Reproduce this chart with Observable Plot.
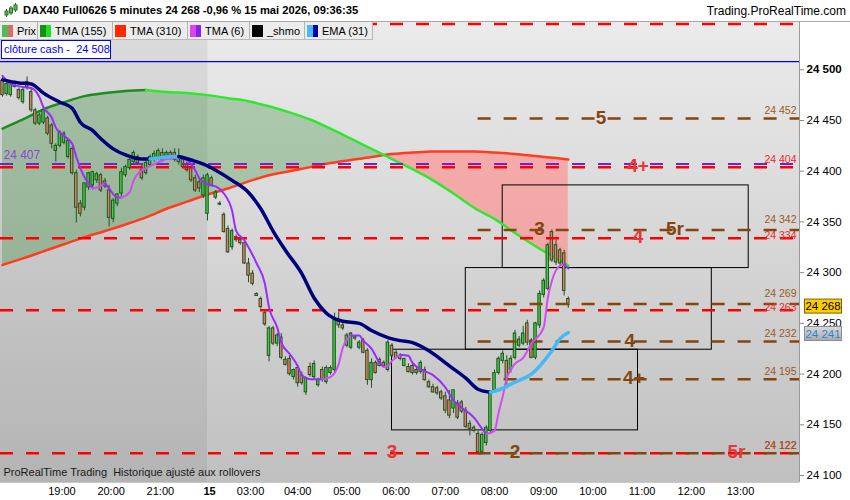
<!DOCTYPE html>
<html><head><meta charset="utf-8">
<script src="https://cdn.jsdelivr.net/npm/d3@7"></script>
<script src="https://cdn.jsdelivr.net/npm/@observablehq/plot@0.6"></script>
<style>
html,body{margin:0;padding:0;background:#fff;}
body{width:850px;height:500px;position:relative;overflow:hidden;font-family:"Liberation Sans",Arial,sans-serif;}
#title{position:absolute;left:0;top:0;width:850px;height:21px;border-bottom:1px solid #a9a9a9;background:#fff;}
#title .t{position:absolute;left:23px;top:4px;font-weight:bold;font-size:11.2px;color:#000;white-space:nowrap;}
#title .r{position:absolute;right:4px;top:4px;font-size:12px;color:#000;}
#title svg{position:absolute;left:4px;top:3px;}
#chart{position:absolute;left:0;top:22px;}
#legend{position:absolute;left:0;top:22px;height:17px;display:flex;background:#ececec;border-bottom:1px solid #b9b9b9;}
#legend .it{box-sizing:border-box;height:17px;border-right:1px solid #b4b4b4;display:flex;align-items:center;font-size:11px;color:#000;padding-left:2px;white-space:nowrap;}
#legend .sw{display:inline-flex;width:11px;height:12px;margin-right:4px;}
#legend .sw b{flex:1;height:12px;display:block;}
#cash{position:absolute;left:1px;top:40px;width:110px;height:19px;box-sizing:border-box;border:1px solid #0000ff;background:#fff;color:#0000ff;font-size:11px;line-height:17px;padding-left:2px;white-space:nowrap;}
</style></head>
<body>
<div id="title">
  <svg width="14" height="15" viewBox="0 0 14 15"><g stroke="#2d6b2d" fill="#55c455"><line x1="2.5" y1="6" x2="2.5" y2="14"/><rect x="1" y="8" width="3" height="4"/><line x1="7" y1="3" x2="7" y2="12"/><rect x="5.5" y="5" width="3" height="5"/><line x1="11.5" y1="0" x2="11.5" y2="9"/><rect x="10" y="2" width="3" height="5"/></g></svg>
  <span class="t">DAX40 Full0626 5 minutes 24 268 -0,96 % 15 mai 2026, 09:36:35</span>
  <span class="r">Trading.ProRealTime.com</span>
</div>
<div id="chart"></div>
<div id="legend"></div>
<div id="cash">clôture cash -&nbsp; 24 508</div>
<script>
// ---------- data ----------
const open = [
24489,24476,24475,24487,24480,24468,24483,24478,24460,24447,
24448,24452,24445,24420,24425,24428,24414,24422,24398,24368,
24364,24384,24386,24391,24396,24390,24381,24353,24368,24378,
24396,24403,24409,24414,24401,24398,24406,24411,24413,24418,
24414,24418,24418,24409,24411,24406,24404,24393,24389,24376,
24358,24393,24374,24367,24357,24343,24325,24332,24332,24329,
24309,24299,24279,24274,24260,24218,24245,24230,24236,24214,
24215,24197,24206,24199,24182,24207,24197,24189,24204,24192,
24201,24204,24253,24248,24228,24226,24235,24226,24233,24223,
24194,24211,24214,24211,24204,24228,24221,24218,24208,24207,
24208,24204,24202,24204,24192,24187,24186,24182,24178,24174,
24166,24171,24172,24164,24151,24147,24141,24123,24132,24144,
24184,24201,24213,24213,24204,24216,24228,24230,24250,24233,
24216,24248,24278,24284,24340,24327,24322,24319,24274];
const high = [
24494,24490,24488,24489,24482,24482,24493,24481,24462,24457,
24462,24454,24447,24427,24440,24439,24432,24424,24401,24371,
24388,24399,24400,24399,24398,24393,24386,24373,24378,24403,
24406,24413,24420,24416,24406,24411,24416,24420,24422,24422,
24420,24420,24422,24422,24413,24409,24406,24396,24393,24396,
24398,24395,24381,24370,24359,24346,24343,24337,24334,24331,
24314,24302,24280,24276,24262,24247,24247,24240,24240,24217,
24218,24205,24209,24202,24197,24211,24213,24196,24207,24208,
24208,24260,24261,24251,24240,24241,24238,24233,24235,24225,
24215,24213,24216,24213,24233,24230,24223,24220,24215,24210,
24211,24206,24213,24207,24194,24190,24188,24184,24182,24184,
24184,24174,24174,24167,24154,24149,24144,24142,24149,24182,
24204,24217,24223,24218,24218,24243,24237,24247,24253,24235,
24251,24282,24294,24329,24342,24332,24324,24322,24276];
const low = [
24473,24474,24473,24482,24470,24466,24480,24458,24445,24445,
24446,24435,24422,24409,24423,24426,24412,24396,24349,24355,
24361,24381,24383,24388,24379,24383,24345,24349,24365,24375,
24394,24401,24407,24406,24391,24396,24404,24409,24411,24409,
24411,24411,24409,24406,24403,24399,24389,24379,24379,24373,
24351,24385,24372,24366,24339,24319,24322,24330,24327,24308,
24290,24287,24277,24264,24247,24212,24228,24227,24214,24208,
24198,24194,24187,24189,24179,24197,24194,24187,24192,24190,
24199,24201,24245,24243,24226,24224,24233,24224,24220,24189,
24186,24200,24207,24207,24202,24216,24215,24213,24207,24201,
24199,24199,24200,24193,24186,24181,24179,24174,24161,24156,
24161,24155,24161,24146,24139,24142,24122,24120,24129,24141,
24181,24199,24210,24189,24201,24214,24226,24228,24228,24215,
24214,24245,24275,24282,24310,24307,24307,24277,24265];
const close = [
24475,24486,24486,24483,24472,24480,24488,24460,24447,24455,
24460,24437,24427,24425,24438,24437,24430,24398,24364,24358,
24388,24398,24399,24397,24381,24385,24354,24371,24377,24399,
24404,24411,24418,24408,24393,24408,24414,24417,24420,24411,
24418,24413,24411,24415,24404,24401,24391,24381,24383,24393,
24396,24386,24379,24368,24340,24320,24341,24335,24329,24309,
24297,24289,24277,24266,24249,24245,24230,24238,24216,24209,
24200,24204,24191,24191,24196,24199,24210,24194,24194,24206,
24206,24253,24248,24245,24238,24240,24237,24231,24221,24194,
24211,24201,24208,24208,24231,24218,24216,24215,24215,24202,
24201,24201,24211,24194,24187,24182,24181,24176,24164,24159,
24184,24157,24163,24148,24146,24144,24123,24140,24147,24181,
24201,24215,24220,24194,24215,24240,24234,24240,24231,24216,
24250,24279,24292,24327,24312,24310,24309,24282,24268];

// moving averages (bar index, value)
const tmaIdx = [0,5,10,15,20,25,30,35,40,45,50,55,60,65,70,75,80,85,90,93,95,100,105,110,115,120,125,130,135,138];
const tma155 = [24442,24451,24461,24468,24474,24477,24479,24480,24478,24477,24475,24472,24469,24464,24458,24451,24442,24432,24422,24416,24412,24402,24391,24378,24364,24353,24339,24326,24314,24307];
const tma310 = [24307.5,24314,24321,24328,24335,24341,24347.5,24354.5,24363,24370,24377,24383,24390,24396,24400,24404,24408,24411,24414,24416,24417,24418.5,24419.5,24419.5,24419.5,24418.5,24417,24415,24413,24411.5];
const emaIdx = [0,4,7,10,14,17,19,22,24,27,30,34,36,38,40,43,46,49,52,56,60,63,66,69,73,76,79,83,87,90,94,97,100,104,109,113,116,119,122,125,129,134,136,138];
const ema31 = [24490,24487,24486,24477,24468,24462,24448,24440,24432,24422,24416,24412,24412,24413,24414,24414.5,24411,24407,24401,24391,24379,24363,24341,24322,24299,24275,24260,24252,24250,24243,24236,24233,24231,24223,24208,24196,24185,24182,24186,24192,24200,24223,24235,24241];
const t6Idx = [0,2,5,7,9,10,12,13,15,17,18,20,22,23,25,26,28,29,31,32,34,35,38,40,43,45,47,48,50,52,54,56,57,59,60,62,64,65,67,68,70,72,73,75,77,78,80,82,83,85,87,88,90,92,93,94,95,97,99,100,103,105,108,110,112,115,117,118,120,121,122,123,125,127,129,132,133,134,136,137,138];
const tma6 = [24494,24486,24483,24482,24473,24463,24453,24443,24435,24427,24414,24394,24383,24384,24388,24383,24374,24374,24379,24391,24401,24403,24409,24412,24413,24411,24401,24393,24387,24385,24378,24361,24341,24332,24325,24309,24289,24266,24246,24231,24220,24208,24199,24195,24195,24195,24197,24210,24226,24238,24238,24233,24225,24211,24207,24208,24213,24219,24218,24211,24203,24199,24187,24174,24167,24157,24146,24141,24144,24162,24178,24196,24210,24216,24230,24246,24275,24292,24307,24308,24304];

// horizontal levels
const cashClose = 24508;
const redLevels = [24545, 24404, 24334, 24263, 24122];
const purpleLevels = [24407];
const brownLevels = [24452, 24342, 24269, 24232, 24195, 24122];
const brownStart = 116;

// zones (black boxes)
const boxStart = [95, 113, 122];
const boxEnd = [155, 173, 182];
const boxLow = [24144.5, 24224, 24304.5];
const boxHigh = [24224, 24304.5, 24386];

// wave labels
const waveText = ["5","4+","3","5r","4","4","4+","3","2","5r"];
const waveIdx = [146,155,131,164,155,153,154,95,125,179];
const waveVal = [24452,24404,24342,24342,24334,24232,24195,24122,24122,24122];
const waveKind = ["b","r","b","b","r","b","b","r","b","r"];

// value labels at right edge
const levelLabelVal = [24452,24404,24342,24334,24269,24263,24232,24195,24122,24122];
const levelLabelKind = ["b","r","b","r","b","r","b","b","r","b"];

// axes
const xTickPos = [14.5,26.5,38.5,50.5,60.5,72,84,96,108,120,132,144,156,168,180];
const xTickLab = ["19:00","20:00","21:00","15","03:00","04:00","05:00","06:00","07:00","08:00","09:00","10:00","11:00","12:00","13:00"];
const yTicks = [24100,24150,24200,24250,24300,24350,24400,24450,24500];

// legend
const legendNames = ["Prix","TMA (155)","TMA (310)","TMA (6)","_shmo","EMA (31)"];
const legendA = ["#55bb55","#149014","#ff2a00","#dd44ee","#000000","#44bbff"];
const legendB = ["#e06a6a","#22dd22","#ff2a00","#8a22ee","#000000","#0000aa"];
const legendW = [38,75,75,62,55,68];

// ---------- layout constants ----------
const xMin = -0.488, xMax = 194.39, dayBoundary = 50.2;
const yMin = 24093.1, yMax = 24546.6;
const RED = "#ff0000", BROWN = "#84450f", RED_T = "#f02828", BROWN_T = "#9a5a1e";
const fmt = v => d3.format(",")(Math.round(v)).replace(/,/g, " ");

// ---------- legend ----------
const lg = document.getElementById("legend");
legendNames.forEach((n, k) => {
  const it = document.createElement("div");
  it.className = "it"; it.style.width = legendW[k] + "px";
  it.innerHTML = `<span class="sw"><b style="background:${legendA[k]}"></b><b style="background:${legendB[k]}"></b></span>${n}`;
  lg.appendChild(it);
});

// ---------- derived rows ----------
const candles = open.map((o, i) => ({i, o, h: high[i], l: low[i], c: close[i]}));
const tmaRows = tmaIdx.map((i, k) => ({i, a: tma155[k], b: tma310[k]}));
const crossIdx = 93;

function segments(idx, val, up, down) {
  const rows = []; let seg = 0, prev = null;
  for (let k = 1; k < idx.length; k++) {
    const col = val[k] > val[k - 1] ? up : down;
    if (col !== prev) { seg++; rows.push({i: idx[k - 1], v: val[k - 1], seg, col}); prev = col; }
    rows.push({i: idx[k], v: val[k], seg, col});
  }
  return rows;
}
const g155 = segments(tmaIdx, tma155, "#1f8c1f", "#2ee82e");
const r310 = tmaIdx.map((i, k) => ({i, v: tma310[k]}));
const emaRows = segments(emaIdx, ema31, "#45b8f5", "#00007e");
const t6Rows = segments(t6Idx, tma6, "#d24cf2", "#9a2cff");

// close pairs of right-edge labels are nudged apart so they stay readable
const upperLabel = new Set([24342, 24269]);
const lowerLabel = new Set([24334, 24263]);
const levelLabels = levelLabelVal.map((v, k) => ({v, t: fmt(v), col: levelLabelKind[k] === "r" ? RED_T : BROWN_T}));
const waves = waveText.map((t, k) => ({t, i: waveIdx[k], v: waveVal[k], col: waveKind[k] === "r" ? "#e83535" : BROWN}));
const boxes = boxStart.map((s, k) => ({x1: s, x2: boxEnd[k], y1: boxLow[k], y2: boxHigh[k]}));
const labelOpts = {y: "v", text: "t", fill: "col", frameAnchor: "right", textAnchor: "end", dx: -3, fontSize: 10.5};

const plot = Plot.plot({
  width: 850, height: 478,
  marginLeft: 0, marginRight: 51, marginTop: 0, marginBottom: 18,
  x: {domain: [xMin, xMax]},
  y: {domain: [yMin, yMax]},
  color: {type: "identity"},
  style: {fontFamily: "'Liberation Sans', Arial, sans-serif", background: "transparent", color: "#000"},
  marks: [
    Plot.rect([{a: xMin, b: dayBoundary}], {x1: "a", x2: "b", y1: () => yMin, y2: () => yMax, fill: "url(#gPrev)"}),
    Plot.rect([{a: dayBoundary, b: xMax}], {x1: "a", x2: "b", y1: () => yMin, y2: () => yMax, fill: "url(#gCur)"}),
    Plot.areaY(tmaRows.filter(d => d.i <= crossIdx), {x: "i", y1: "b", y2: "a", fill: "#1a801a", fillOpacity: 0.27, curve: "monotone-x"}),
    Plot.areaY(tmaRows.filter(d => d.i >= crossIdx), {x: "i", y1: "b", y2: "a", fill: "#ff9393", fillOpacity: 0.69, curve: "monotone-x"}),
    Plot.ruleY([cashClose], {stroke: "#0000ff", strokeWidth: 1.4}),
    Plot.rect(boxes, {x1: "x1", x2: "x2", y1: "y1", y2: "y2", fill: "none", stroke: "#000", strokeWidth: 1}),
    Plot.line(r310, {x: "i", y: "v", stroke: "#ff3c1e", strokeWidth: 2.5, curve: "monotone-x"}),
    Plot.line(g155, {x: "i", y: "v", z: "seg", stroke: "col", strokeWidth: 2.5, curve: "monotone-x"}),
    Plot.ruleX(candles, {x: "i", y1: "l", y2: "h", stroke: "#1f531f", strokeWidth: 1}),
    Plot.rect(candles, {x1: d => d.i - 0.3, x2: d => d.i + 0.3, y1: "o", y2: "c",
      fill: d => d.c >= d.o ? "#3fd03f" : "#ea7d68", stroke: "#1f531f", strokeWidth: 1}),
    Plot.ruleY(redLevels, {y: d => d, stroke: RED, strokeWidth: 2.5, strokeDasharray: "13,13"}),
    Plot.ruleY(purpleLevels, {y: d => d, stroke: "#7a1fd0", strokeWidth: 2, strokeDasharray: "13,13"}),
    Plot.ruleY(brownLevels, {y: d => d, x1: () => brownStart, x2: () => xMax, stroke: BROWN, strokeWidth: 2.5, strokeDasharray: "13,13"}),
    Plot.line(t6Rows, {x: "i", y: "v", z: "seg", stroke: "col", strokeWidth: 2, curve: "monotone-x"}),
    Plot.line(emaRows, {x: "i", y: "v", z: "seg", stroke: "col", strokeWidth: 3.5, curve: "monotone-x"}),
    Plot.text(levelLabels.filter(d => !upperLabel.has(d.v) && !lowerLabel.has(d.v)), {...labelOpts, dy: -8}),
    Plot.text(levelLabels.filter(d => upperLabel.has(d.v)), {...labelOpts, dy: -10}),
    Plot.text(levelLabels.filter(d => lowerLabel.has(d.v)), {...labelOpts, dy: -3}),
    Plot.text([{v: purpleLevels[0], t: fmt(purpleLevels[0])}], {y: "v", text: "t", frameAnchor: "left", textAnchor: "start", dx: 3, dy: -9, fill: "#8c45d6", fontSize: 12}),
    Plot.text(waves, {x: "i", y: "v", text: "t", fill: "col", fontSize: 19, fontWeight: "bold", dy: -1}),
    Plot.text(["ProRealTime Trading\u00a0 Historique ajusté aux rollovers"], {text: d => d, frameAnchor: "bottom-left", textAnchor: "start", dx: 3, dy: -7, fontSize: 11, fill: "#1a1a1a"}),
    Plot.ruleX([xMax], {stroke: "#9a9a9a", strokeWidth: 1}),
    Plot.ruleY([yMin], {stroke: "#c8c8c8", strokeWidth: 1}),
    Plot.axisY(yTicks, {anchor: "right", tickSize: 4, tickPadding: 3, tickFormat: fmt, fontSize: 11.5, stroke: "#8a8a8a"}),
    Plot.axisX(xTickPos, {anchor: "bottom", tickSize: 0, tickPadding: 5, tickFormat: d => xTickLab[xTickPos.indexOf(d)], fontSize: 11})
  ]
});

// gradients for the panel background
const svg = d3.select(plot);
const defs = svg.insert("defs", ":first-child");
function grad(id, top, bottom) {
  const g = defs.append("linearGradient").attr("id", id).attr("x1", 0).attr("y1", 0).attr("x2", 0).attr("y2", 1);
  g.append("stop").attr("offset", "0%").attr("stop-color", top);
  g.append("stop").attr("offset", "100%").attr("stop-color", bottom);
}
grad("gPrev", "#dcdcdc", "#b4b4b4");
grad("gCur", "#ebebeb", "#c0c0c0");
grad("gTag", "#dadada", "#aaaaaa");

// bold labels
svg.selectAll("text").filter(function () { return this.textContent === "15" || this.textContent === "24 500"; })
  .attr("font-weight", "bold");

// price tags in the right margin
const ys = plot.scale("y");
const tg = svg.append("g");
function tag(v, fill, stroke, textColor) {
  const y = ys.apply(v);
  tg.append("rect").attr("x", 804.5).attr("y", y - 5.5).attr("width", 37).attr("height", 14)
    .attr("fill", fill).attr("stroke", stroke).attr("stroke-width", 1);
  tg.append("text").attr("x", 823).attr("y", y + 1.5).attr("dy", "0.35em").attr("text-anchor", "middle")
    .attr("font-size", 11.5).attr("fill", textColor).text(fmt(v));
}
tag(close[close.length - 1], "#ffcc00", "#7a6200", "#000");
tag(ema31[ema31.length - 1], "url(#gTag)", "#8c8c8c", "#2a86d6");

document.getElementById("chart").appendChild(plot);
</script>
</body></html>
